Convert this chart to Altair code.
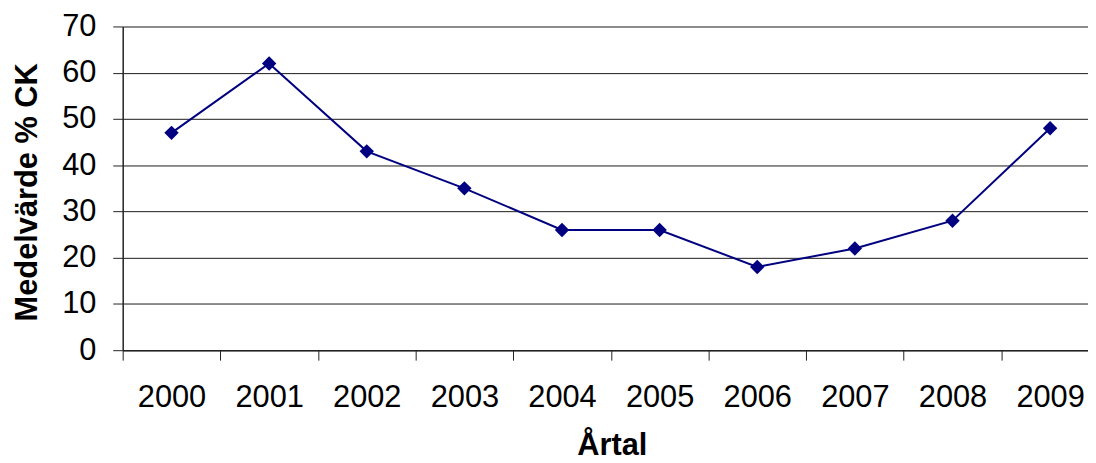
import json
import altair as alt
import pandas as pd

# Data
years = [2000, 2001, 2002, 2003, 2004, 2005, 2006, 2007, 2008, 2009]
values = [47, 62, 43, 35, 26, 26, 18, 22, 28, 48]
y_ticks = [0, 10, 20, 30, 40, 50, 60, 70]

df = pd.DataFrame({"year": years, "value": values})

FONT = "Liberation Sans"
BAND = 98.3          # pixel width of one year category
PLOT_W = 972
PLOT_H = 326
x_max = -0.5 + PLOT_W / BAND

label_expr = json.dumps([str(y) for y in years]) + "[datum.value]"

x_enc = alt.X(
    "idx:Q",
    scale=alt.Scale(domain=[-0.5, x_max], nice=False, zero=False),
    axis=alt.Axis(
        values=list(range(len(years))),
        labelExpr=label_expr,
        tickOffset=-BAND / 2,
        labelOffset=BAND / 2,
        tickSize=10,
        tickColor="#222222",
        tickWidth=1,
        domainColor="#222222",
        domainWidth=1.5,
        grid=False,
        labelFont=FONT,
        labelFontSize=31,
        labelColor="black",
        labelBaseline="alphabetic",
        labelPadding=47,
        labelFlush=False,
        labelOverlap=False,
        title="Årtal",
        titleFont=FONT,
        titleFontSize=31,
        titleFontWeight="bold",
        titleColor="black",
        titleX=492.5,
        titleY=105,
        titleBaseline="alphabetic",
        titleAlign="center",
    ),
)

y_enc = alt.Y(
    "value:Q",
    scale=alt.Scale(domain=[0, 70], nice=False),
    axis=alt.Axis(
        values=y_ticks,
        grid=True,
        gridColor={"condition": {"test": "datum.value == 70", "value": "#8c8c8c"}, "value": "#1a1a1a"},
        gridWidth={"condition": {"test": "datum.value == 70", "value": 2}, "value": 1},
        tickSize=10,
        tickColor="#222222",
        domainColor="#222222",
        domainWidth=1.5,
        labelFont=FONT,
        labelFontSize=31,
        labelColor="black",
        labelPadding=17,
        title="Medelvärde % CK",
        titleFont=FONT,
        titleFontSize=31,
        titleFontWeight="bold",
        titleColor="black",
        titleAngle=270,
        titleX=-87,
        titleY=166.5,
        titleBaseline="alphabetic",
        titleAlign="center",
    ),
)

base = alt.Chart(df).transform_calculate(idx=f"datum.year - {years[0]}")

line = base.mark_line(color="#000080", strokeWidth=2).encode(x=x_enc, y=y_enc)
points = base.mark_point(
    shape="diamond", filled=True, color="#000080", size=210, opacity=1
).encode(x=x_enc, y=y_enc)

chart = (
    alt.layer(line, points)
    .properties(
        width=PLOT_W,
        height=PLOT_H,
        autosize=alt.AutoSizeParams(type="none"),
        padding={"left": 115.5, "top": 17, "right": 0, "bottom": 112},
        background="white",
    )
    .configure_view(stroke=None)
)

chart.save("out.html", embed_options={"renderer": "svg", "actions": False})
